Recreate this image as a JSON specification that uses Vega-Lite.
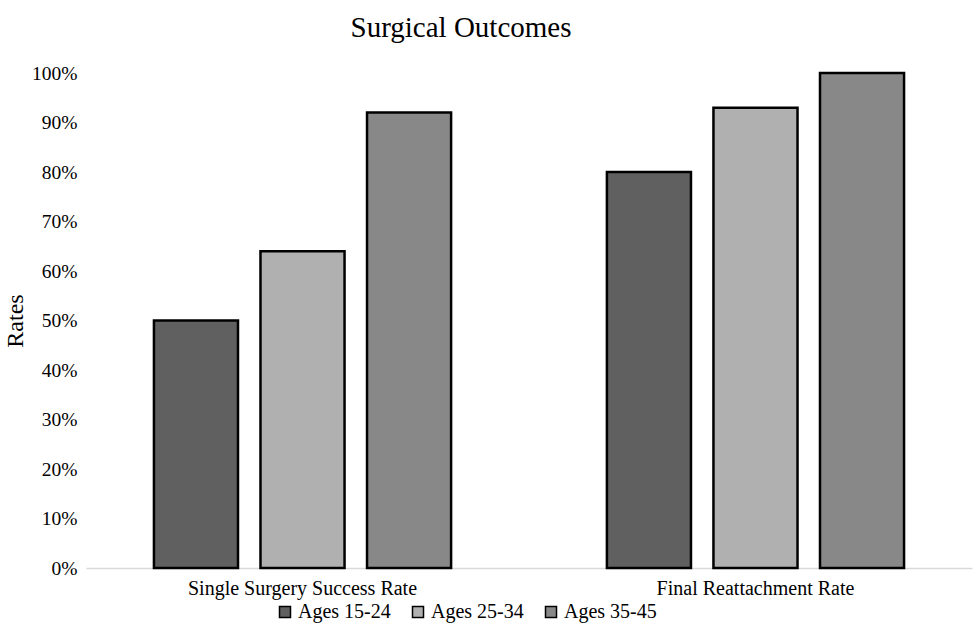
{
  "$schema": "https://vega.github.io/schema/vega-lite/v6.json",
  "autosize": "none",
  "width": 886,
  "height": 495,
  "padding": {"left": 86, "top": 73, "right": 4, "bottom": 60},
  "background": "white",
  "title": {
    "text": "Surgical Outcomes",
    "font": "Liberation Serif",
    "fontSize": 29,
    "fontWeight": "normal",
    "color": "black",
    "anchor": "middle",
    "dx": -68,
    "offset": 20
  },
  "data": {
    "values": [
      {"metric": "Single Surgery Success Rate", "group": "Ages 15-24", "rate": 0.50},
      {"metric": "Single Surgery Success Rate", "group": "Ages 25-34", "rate": 0.64},
      {"metric": "Single Surgery Success Rate", "group": "Ages 35-45", "rate": 0.92},
      {"metric": "Final Reattachment Rate", "group": "Ages 15-24", "rate": 0.80},
      {"metric": "Final Reattachment Rate", "group": "Ages 25-34", "rate": 0.93},
      {"metric": "Final Reattachment Rate", "group": "Ages 35-45", "rate": 1.00}
    ]
  },
  "mark": {"type": "bar", "stroke": "black", "strokeWidth": 2.5},
  "encoding": {
    "x": {
      "field": "metric",
      "type": "nominal",
      "sort": ["Single Surgery Success Rate", "Final Reattachment Rate"],
      "scale": {"paddingInner": 0.344, "paddingOuter": 0.15},
      "axis": {
        "title": null,
        "labelAngle": 0,
        "labelLimit": 0,
        "labelFont": "Liberation Serif",
        "labelFontSize": 20,
        "labelColor": "black",
        "labelPadding": 10,
        "ticks": false,
        "domainColor": "#d9d9d9",
        "domainWidth": 1.5
      }
    },
    "xOffset": {
      "field": "group",
      "type": "nominal",
      "scale": {"paddingInner": 0.211, "paddingOuter": 0}
    },
    "y": {
      "field": "rate",
      "type": "quantitative",
      "scale": {"domain": [0, 1]},
      "axis": {
        "title": "Rates",
        "titleFont": "Liberation Serif",
        "titleFontSize": 24,
        "titleFontWeight": "normal",
        "titleColor": "black",
        "titlePadding": 4,
        "format": ".0%",
        "values": [0, 0.1, 0.2, 0.3, 0.4, 0.5, 0.6, 0.7, 0.8, 0.9, 1.0],
        "labelFont": "Liberation Serif",
        "labelFontSize": 19.5,
        "labelColor": "black",
        "labelPadding": 9,
        "ticks": false,
        "domain": false,
        "grid": false
      }
    },
    "fill": {
      "field": "group",
      "type": "nominal",
      "scale": {"range": ["#606060", "#b0b0b0", "#888888"]},
      "legend": {
        "title": null,
        "orient": "none",
        "direction": "horizontal",
        "legendX": 189,
        "legendY": 529,
        "symbolType": "square",
        "symbolSize": 121,
        "symbolStrokeColor": "black",
        "symbolStrokeWidth": 1.5,
        "labelFont": "Liberation Serif",
        "labelFontSize": 20,
        "labelColor": "black",
        "labelOffset": 3,
        "columnPadding": 17
      }
    }
  },
  "config": {"view": {"stroke": null}}
}
